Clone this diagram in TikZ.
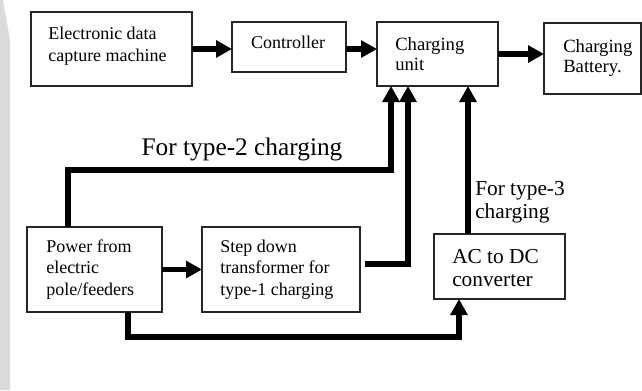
\documentclass[tikz,border=0pt]{standalone}
\usepackage{fontspec}
\setmainfont{Liberation Serif}
\usetikzlibrary{arrows.meta}
\tikzset{
  box/.style={draw=black!85, line width=0.8pt, inner sep=0pt, outer sep=0pt},
  txt/.style={inner sep=0pt, align=left, anchor=base west,
              font=\fontsize{13.5pt}{16.5pt}\selectfont},
  arr/.style={line width=4.3pt, line join=miter,
              -{Triangle[length=12pt,width=12.5pt]}}
}
\begin{document}
\begin{tikzpicture}[x=0.75pt,y=-0.75pt]
  \useasboundingbox (0,0) rectangle (642,390);
  % light strip along the left edge
  \fill[black!14] (0,0) -- (3,0) -- (10,40) -- (10,390) -- (0,390) -- cycle;

  % blocks
  \node[box, minimum width=120.75pt, minimum height=55.5pt] (ecm)   at (111.5,49)  {};
  \node[box, minimum width=85.5pt,   minimum height=37.5pt] (ctrl)  at (289,47)    {};
  \node[box, minimum width=90.75pt,  minimum height=48pt]   (unit)  at (437.5,54)  {};
  \node[box, minimum width=72.75pt,  minimum height=53.25pt](batt)  at (592.5,58.5){};
  \node[box, minimum width=101.25pt, minimum height=63.75pt](power) at (94.5,269.5){};
  \node[box, minimum width=118.5pt,  minimum height=63.75pt](step)  at (281,269.5) {};
  \node[box, minimum width=98.25pt,  minimum height=48.75pt](acdc)  at (499.5,266.5){};

  % block texts (anchored on the baseline of the last line)
  \node[txt] (ecm-t) at (48,61) {Electronic data\\capture machine};
  \node[txt, anchor=base] (ctrl-t) at (288,48) {Controller};
  \node[txt, font=\fontsize{14pt}{15pt}\selectfont] (unit-t) at (395,70) {Charging\\unit};
  \node[txt, font=\fontsize{14pt}{15pt}\selectfont] (batt-t) at (563,72) {Charging\\Battery.};
  \node[txt, font=\fontsize{13.5pt}{16pt}\selectfont] (power-t) at (46,295) {Power from\\electric\\pole/feeders};
  \node[txt, font=\fontsize{13.5pt}{16pt}\selectfont] (step-t) at (220,295) {Step down\\transformer for\\type-1 charging};
  \node[txt, font=\fontsize{16pt}{17.25pt}\selectfont] (acdc-t) at (452,286) {AC to DC\\converter};

  % connector labels
  \node[txt, anchor=base, font=\fontsize{19pt}{22pt}\selectfont] (lab2) at (242,155) {For type-2 charging};
  \node[txt, font=\fontsize{16pt}{17.25pt}\selectfont] (lab3) at (475,218) {For type-3\\charging};

  % bend points
  \coordinate (t2a) at (68,170);
  \coordinate (t2b) at (391,170);
  \coordinate (s1)  at (408,264);
  \coordinate (t3)  at (468,0);
  \coordinate (p1)  at (128,337);
  \coordinate (p2)  at (459,337);

  % top row
  \draw[arr] (ecm.east) -- (ctrl.west |- ecm.east);
  \draw[arr] ([yshift=-1.5pt]ctrl.east) -- ([yshift=-1.5pt]unit.west |- ctrl.east);
  \draw[arr] (unit.east) -- (batt.west |- unit.east);

  % supply paths
  \draw[arr] (power.north -| t2a) -- (t2a) -- (t2b) -- (t2b |- unit.south);
  \draw[arr] (power.east) -- (step.west);
  \draw[arr] ([xshift=3.75pt]step.east |- s1) -- (s1) -- (s1 |- unit.south);
  \draw[arr] (acdc.north -| t3) -- (unit.south -| t3);
  \draw[arr] (power.south -| p1) -- (p1) -- (p2) -- (acdc.south -| p2);
\end{tikzpicture}
\end{document}
